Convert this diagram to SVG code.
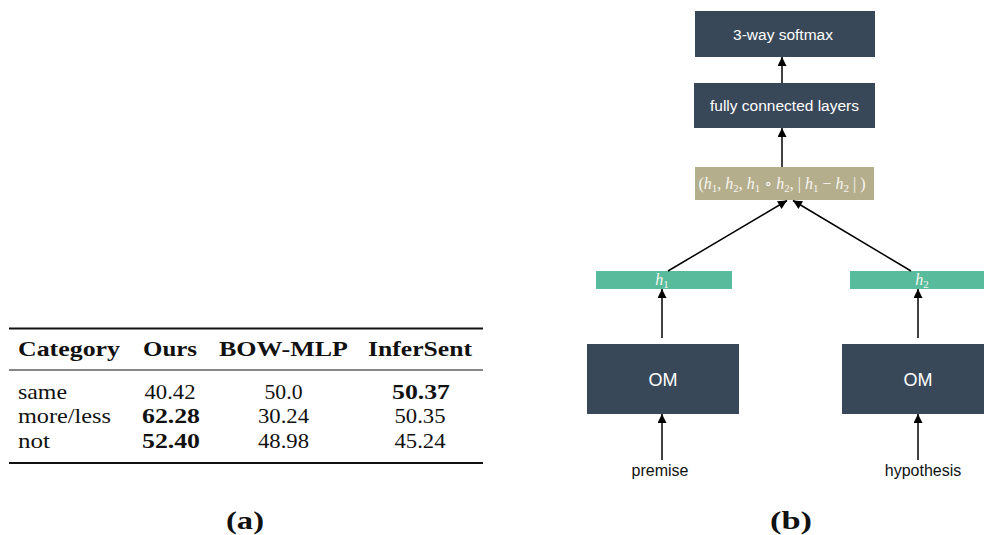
<svg xmlns="http://www.w3.org/2000/svg" width="984" height="535" viewBox="0 0 984 535">
  <style>
    .tab { font-family: "Liberation Serif", "DejaVu Serif", serif; font-size: 21px; fill: #111; }
    .bold { font-weight: bold; }
    .mid { text-anchor: middle; }
    .dark { fill: #394859; }
    .teal { fill: #58bc9c; }
    .tan { fill: #b5ae8d; }
    .wlab { font-family: "Liberation Sans", Arial, sans-serif; fill: #ffffff; text-anchor: middle; }
    .blab { font-family: "Liberation Sans", Arial, sans-serif; fill: #111; text-anchor: middle; font-size: 16px; }
    .math { font-family: "Liberation Serif", "DejaVu Serif", serif; font-style: italic; fill: #f7f6f0; text-anchor: middle; font-size: 16px; }
    .conn { stroke: #000; stroke-width: 1.5; fill: none; marker-end: url(#arr); }
    .cap { font-family: "Liberation Serif", "DejaVu Serif", serif; font-weight: bold; font-size: 26px; fill: #111; text-anchor: middle; }
  </style>
  <defs>
    <marker id="arr" viewBox="0 0 10 10" refX="10" refY="5" markerWidth="6.5" markerHeight="6" markerUnits="strokeWidth" orient="auto">
      <path d="M0,0 L10,5 L0,10 z" fill="#000"/>
    </marker>
  </defs>
  <rect width="984" height="535" fill="#ffffff"/>

  <!-- (a) results table -->
  <g id="table">
    <line x1="9" y1="328.5" x2="483" y2="328.5" stroke="#111" stroke-width="2"/>
    <line x1="9" y1="370" x2="483" y2="370" stroke="#111" stroke-width="1.2"/>
    <line x1="9" y1="463" x2="483" y2="463" stroke="#111" stroke-width="2"/>
    <text class="tab bold" x="18" y="356" textLength="102" lengthAdjust="spacingAndGlyphs">Category</text>
    <text class="tab bold mid" x="170" y="356" textLength="54" lengthAdjust="spacingAndGlyphs">Ours</text>
    <text class="tab bold mid" x="283.5" y="356" textLength="129" lengthAdjust="spacingAndGlyphs">BOW-MLP</text>
    <text class="tab bold mid" x="420" y="356" textLength="104" lengthAdjust="spacingAndGlyphs">InferSent</text>

    <text class="tab" x="18" y="399" textLength="49" lengthAdjust="spacingAndGlyphs">same</text>
    <text class="tab mid" x="170" y="399" textLength="51" lengthAdjust="spacingAndGlyphs">40.42</text>
    <text class="tab mid" x="283.5" y="399" textLength="38" lengthAdjust="spacingAndGlyphs">50.0</text>
    <text class="tab bold mid" x="421" y="399" textLength="58" lengthAdjust="spacingAndGlyphs">50.37</text>

    <text class="tab" x="18" y="423" textLength="93" lengthAdjust="spacingAndGlyphs">more/less</text>
    <text class="tab bold mid" x="171" y="423" textLength="58" lengthAdjust="spacingAndGlyphs">62.28</text>
    <text class="tab mid" x="283.5" y="423" textLength="51" lengthAdjust="spacingAndGlyphs">30.24</text>
    <text class="tab mid" x="420" y="423" textLength="51" lengthAdjust="spacingAndGlyphs">50.35</text>

    <text class="tab" x="18" y="448" textLength="32" lengthAdjust="spacingAndGlyphs">not</text>
    <text class="tab bold mid" x="171" y="448" textLength="58" lengthAdjust="spacingAndGlyphs">52.40</text>
    <text class="tab mid" x="283.5" y="448" textLength="51" lengthAdjust="spacingAndGlyphs">48.98</text>
    <text class="tab mid" x="420" y="448" textLength="51" lengthAdjust="spacingAndGlyphs">45.24</text>
  </g>
  <text class="cap" x="245" y="529" textLength="38" lengthAdjust="spacingAndGlyphs">(a)</text>

  <!-- (b) model architecture -->
  <g id="softmax">
    <rect class="dark" x="695" y="11" width="180" height="46"/>
    <text class="wlab" x="783" y="39.5" font-size="15.5">3-way softmax</text>
  </g>
  <g id="fc">
    <rect class="dark" x="694" y="83" width="181" height="45"/>
    <text class="wlab" x="784.5" y="111" font-size="15.5">fully connected layers</text>
  </g>
  <g id="concat">
    <rect class="tan" x="695" y="167" width="179" height="33"/>
    <text class="math" x="782" y="189"><tspan font-style="normal">(</tspan>h<tspan font-size="11" font-style="normal" dy="3">1</tspan><tspan dy="-3" font-style="normal">, </tspan>h<tspan font-size="11" font-style="normal" dy="3">2</tspan><tspan dy="-3" font-style="normal">, </tspan>h<tspan font-size="11" font-style="normal" dy="3">1</tspan><tspan dy="-3" font-style="normal"> ∘ </tspan>h<tspan font-size="11" font-style="normal" dy="3">2</tspan><tspan dy="-3" font-style="normal">, | </tspan>h<tspan font-size="11" font-style="normal" dy="3">1</tspan><tspan dy="-3" font-style="normal"> − </tspan>h<tspan font-size="11" font-style="normal" dy="3">2</tspan><tspan dy="-3" font-style="normal"> | )</tspan></text>
  </g>
  <g id="h1">
    <rect class="teal" x="596" y="271" width="136" height="18"/>
    <text class="math" x="662" y="285">h<tspan font-size="11" font-style="normal" dy="3">1</tspan></text>
  </g>
  <g id="h2">
    <rect class="teal" x="850" y="271" width="134" height="18"/>
    <text class="math" x="922" y="285">h<tspan font-size="11" font-style="normal" dy="3">2</tspan></text>
  </g>
  <g id="om-premise">
    <rect class="dark" x="587" y="344" width="152" height="70"/>
    <text class="wlab" x="663" y="386" font-size="18">OM</text>
  </g>
  <g id="om-hypothesis">
    <rect class="dark" x="842" y="344" width="152" height="70"/>
    <text class="wlab" x="918" y="386" font-size="18">OM</text>
  </g>
  <g id="premise">
    <text class="blab" x="660" y="476">premise</text>
  </g>
  <g id="hypothesis">
    <text class="blab" x="923" y="476">hypothesis</text>
  </g>

  <g id="connectors">
    <line class="conn" x1="782" y1="83" x2="782" y2="57"/>
    <line class="conn" x1="782" y1="167" x2="782" y2="128"/>
    <line class="conn" x1="668" y1="271" x2="787" y2="200.5"/>
    <line class="conn" x1="911" y1="271" x2="793" y2="200.5"/>
    <line class="conn" x1="662" y1="338" x2="662" y2="289"/>
    <line class="conn" x1="918" y1="338" x2="918" y2="289"/>
    <line class="conn" x1="662" y1="460" x2="662" y2="414"/>
    <line class="conn" x1="918" y1="460" x2="918" y2="414"/>
  </g>
  <text class="cap" x="791" y="529" textLength="42" lengthAdjust="spacingAndGlyphs">(b)</text>
</svg>
